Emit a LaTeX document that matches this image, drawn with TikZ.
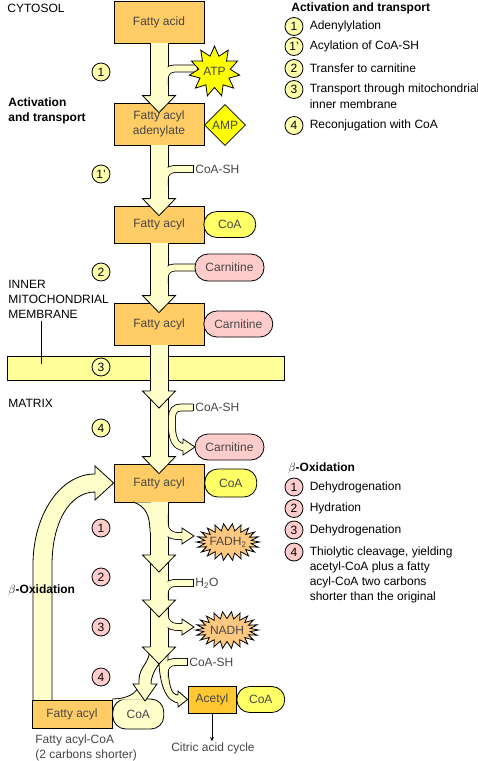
\documentclass[tikz,border=0pt]{standalone}
\usepackage{fontspec}
\setmainfont{Liberation Sans}
\usetikzlibrary{shapes.geometric, arrows, positioning, calc}
\definecolor{boxorange}{RGB}{255,204,102}
\definecolor{acetylorange}{RGB}{255,200,51}
\definecolor{paleyellow}{RGB}{255,255,204}
\definecolor{coayellow}{RGB}{255,255,102}
\definecolor{carnpink}{RGB}{255,204,204}
\definecolor{membyellow}{RGB}{255,255,153}
\definecolor{stepyellow}{RGB}{255,255,170}
\definecolor{burstorange}{RGB}{255,200,128}
\definecolor{atpyellow}{RGB}{255,255,0}
\definecolor{labelgray}{RGB}{70,70,70}

% wide flow arrow pieces
\newcommand{\fatshaft}[2]{%
  \filldraw[band] ($(#1)+(-9,0)$) -- ($(#2)+(-9,-3)$) -- ($(#2)+(9,-3)$) -- ($(#1)+(9,0)$);}
\newcommand{\fathead}[1]{%
  \filldraw[band] ($(#1)+(-9,-7)$) -- ($(#1)+(-16.5,-7)$) -- ($(#1)+(0,10)$)
    -- ($(#1)+(16.5,-7)$) -- ($(#1)+(9,-7)$);}
% side stream joining the shaft
\newcommand{\feedin}[1]{%
  \begin{scope}
    \clip ($(#1 -| axis)+(8.6,-15)$) rectangle ($(#1)+(2,30)$);
    \draw[line width=7.8pt] (#1) -- ($(#1 -| axis)+(15.5,0)$)
      .. controls ($(#1 -| axis)+(10,0)$) and ($(#1 -| axis)+(5.5,4.5)$)
      .. ($(#1 -| axis)+(5.5,10)$) -- ($(#1 -| axis)+(5.5,16)$);
  \end{scope}
  \draw[line width=6.2pt, paleyellow] (#1) -- ($(#1 -| axis)+(15.5,0)$)
      .. controls ($(#1 -| axis)+(10,0)$) and ($(#1 -| axis)+(5.5,4.5)$)
      .. ($(#1 -| axis)+(5.5,10)$) -- ($(#1 -| axis)+(5.5,16)$);
  \draw ($(#1)+(0,-3.9)$) -- ($(#1)+(0,3.9)$);}
% side stream leaving the shaft, tip at #1
\newcommand{\feedout}[1]{%
  \begin{scope}
    \clip ($(#1 -| axis)+(8.6,-30)$) rectangle ($(#1)+(0,12)$);
    \draw[line width=7.8pt] ($(#1 -| axis)+(5.5,-22)$) -- ($(#1 -| axis)+(5.5,-12)$)
      .. controls ($(#1 -| axis)+(5.5,-5.4)$) and ($(#1 -| axis)+(10.9,0)$)
      .. ($(#1 -| axis)+(17.5,0)$) -- ($(#1)+(-11,0)$);
  \end{scope}
  \draw[line width=6.2pt, paleyellow] ($(#1 -| axis)+(5.5,-22)$) -- ($(#1 -| axis)+(5.5,-12)$)
      .. controls ($(#1 -| axis)+(5.5,-5.4)$) and ($(#1 -| axis)+(10.9,0)$)
      .. ($(#1 -| axis)+(17.5,0)$) -- ($(#1)+(-11,0)$);
  \filldraw[band] ($(#1)+(-12,-3.5)$) -- ($(#1)+(-12,-8)$) -- (#1)
    -- ($(#1)+(-12,8)$) -- ($(#1)+(-12,3.5)$);}

\begin{document}
\begin{tikzpicture}[x=1pt, y=-1pt, line width=0.8pt,
    every node/.style={font=\fontsize{12}{15}\selectfont},
    band/.style={draw=black, fill=paleyellow, line width=0.8pt},
    box/.style={rectangle, draw=black, fill=boxorange, minimum width=90pt,
                text=labelgray, align=center, inner sep=1pt},
    pill/.style={rectangle, rounded corners=13pt, draw=black, text=labelgray,
                 minimum height=26pt, inner sep=1pt},
    coapill/.style={pill, fill=coayellow, minimum width=52pt},
    carnpill/.style={pill, fill=carnpink, minimum width=69pt},
    stepnum/.style={circle, draw=black, fill=stepyellow, minimum size=18pt, inner sep=0pt},
    betanum/.style={stepnum, fill=carnpink},
    plain/.style={anchor=west, inner sep=2pt, text=labelgray},
    sidelabel/.style={anchor=west, inner sep=2pt, align=left},
    legend/.style={anchor=west, inner sep=0pt},
    heading/.style={anchor=west, inner sep=0pt, align=left,
                    font=\fontsize{12}{15}\selectfont\bfseries}
]
\useasboundingbox (0,0) rectangle (478,761);
\coordinate (axis) at (159,0);

% membrane
\node (membrane) [draw=black, fill=membyellow, minimum width=277pt, minimum height=24pt,
                  inner sep=0pt] at (145.5,368) {};

% boxes
\node (acid) [box, minimum height=42pt] at (159,22) {Fatty acid};
\node (adenylate) [box, minimum height=42pt] at (159,124) {Fatty acyl\\adenylate};
\node (acylcoa) [box, minimum height=37pt] at (159,224.5) {Fatty acyl};
\node (coaA) [coapill, right=-1pt of acylcoa] {CoA};
\node (acylcarn) [box, minimum height=42pt] at (159,324) {Fatty acyl};
\node (carnA) [carnpill, right=-1pt of acylcarn] {Carnitine};
\node (acylbeta) [box, minimum height=38pt] at (159,483) {Fatty acyl};
\node (coaB) [coapill, minimum height=28pt, right=0pt of acylbeta] {CoA};
\node (acetyl) [box, fill=acetylorange, minimum width=48pt, minimum height=27pt] at (212,699.5) {Acetyl};
\node (coaC) [coapill, minimum width=48pt, right=0pt of acetyl] {CoA};

% recycling loop
\filldraw[band] (33,700) -- (33,565) .. controls (33,515) and (60,474) .. (95,474)
  -- (95,466) -- (acylbeta.west) -- (95,500) -- (95,492)
  .. controls (70,492) and (52,522) .. (52,565) -- (52,700);
\node (acylshort) [box, minimum width=80pt, minimum height=28pt] at (72,714) {Fatty acyl};
\node (coashort) [pill, fill=paleyellow, minimum width=51pt, minimum height=30pt,
                  right=0pt of acylshort] {CoA};

% main flow
\coordinate (memhead) at (159,398);
\coordinate (oxA) at (159,562);
\coordinate (oxB) at (159,607);
\coordinate (oxC) at (159,654);
\fatshaft{acid.south}{adenylate.north}
\fatshaft{adenylate.south}{acylcoa.north}
\fatshaft{acylcoa.south}{acylcarn.north}
\fatshaft{acylcarn.south}{memhead}
\fatshaft{memhead}{acylbeta.north}
\fatshaft{acylbeta.south}{oxA}
\fill[paleyellow] (133,502.4) .. controls (146,506) and (150,516) .. (150,532) -- (155,532) -- (155,502.4) -- cycle;
\draw (133,502) .. controls (146,506) and (150,516) .. (150,532);
\fatshaft{oxA}{oxB}
\fatshaft{oxB}{oxC}
% split into acyl-CoA and acetyl-CoA
\filldraw[band] (150,648) .. controls (150,663) and (139,667) .. (139,680) -- (139,686)
  -- (151,686) -- (151,684) .. controls (151,676) and (156,668) .. (159,664)
  .. controls (160,682) and (165,703) .. (180,703) -- (180,695) -- (178,695)
  .. controls (171,695) and (168,684) .. (168,660) -- (168,648) -- cycle;
\fill[paleyellow] (139.4,684) .. controls (137.5,694) and (126,698.6) .. (112,698.6)
  -- (112,699.5) -- (145,699.5) -- (145,684) -- cycle;
\draw (139,684) .. controls (137.5,694) and (126,699) .. (112,699);

% side streams
\coordinate (atpin) at (197,68.5);
\coordinate (carnin) at (196,267.5);
\coordinate (carnout) at (195,447);
\coordinate (fadhtip) at (194,536);
\coordinate (nadhtip) at (194,627);
\node (coashA) [plain] at (193,169) {CoA-SH};
\node (coashB) [plain] at (193,407.5) {CoA-SH};
\node (water) [plain] at (193,583) {H\textsubscript{2}O};
\node (coashC) [plain] at (187,662) {CoA-SH};
\feedin{atpin}
\feedin{coashA.west}
\feedin{carnin}
\draw[line width=7.8pt] (coashB.west) -- (181,407.5) .. controls (175,407.5) and (172,411) .. (172,417)
  -- (172,427) .. controls (172,437) and (175,447) .. (184,447);
\draw[line width=6.2pt, paleyellow] (coashB.west) -- (181,407.5) .. controls (175,407.5) and (172,411) .. (172,417)
  -- (172,427) .. controls (172,437) and (175,447) .. (184,447);
\draw ($(coashB.west)+(0,-3.9)$) -- ($(coashB.west)+(0,3.9)$);
\filldraw[band] (183,443.5) -- (183,439) -- (carnout) -- (183,455) -- (183,450.5);
\feedout{fadhtip}
\feedin{water.west}
\feedout{nadhtip}
\feedin{coashC.west}

% arrow heads
\fathead{adenylate.north}
\fathead{acylcoa.north}
\fathead{acylcarn.north}
\fathead{memhead}
\fathead{acylbeta.north}
\fathead{oxA}
\fathead{oxB}
\fathead{oxC}
\filldraw[band] (139,684) -- (133,684) -- (145,701) -- (157,684) -- (151,684);
\filldraw[band] (178,695) -- (178,691) -- (acetyl.west) -- (178,707) -- (178,703);

% cofactors
\node (atp) [star, star points=11, star point ratio=1.6, draw=black, fill=atpyellow,
             minimum size=46pt, inner sep=0pt, text=labelgray] at (214.5,71.5) {ATP};
\node (amp) [diamond, draw=black, fill=atpyellow, minimum size=41pt, inner sep=0pt,
             text=labelgray] at (225,125) {AMP};
\node (carnB) [carnpill, minimum height=27pt] at (229.5,267.5) {Carnitine};
\node (carnC) [carnpill] at (229.5,447) {Carnitine};
\filldraw[fill=burstorange] plot[domain=0:43, samples=44, variable=\k]
  ({228+(27.5+4*cos(180*\k))*cos(360/44*\k)}, {542+(15+3.5*cos(180*\k))*sin(360/44*\k)}) -- cycle;
\node (fadh) [text=labelgray] at (228,542) {FADH\textsubscript{2}};
\filldraw[fill=burstorange] plot[domain=0:43, samples=44, variable=\k]
  ({227+(27.5+4*cos(180*\k))*cos(360/44*\k)}, {630+(15+3.5*cos(180*\k))*sin(360/44*\k)}) -- cycle;
\node (nadh) [text=labelgray] at (227,630) {NADH};

\node (citric) [text=labelgray, inner sep=1pt] at (213,748) {Citric acid cycle};
\draw[->, >=stealth] (acetyl.south) -- (acetyl.south |- citric.north);
\node (shortlbl) [plain] at (33,747.5) [align=left] {Fatty acyl-CoA\\(2 carbons shorter)};

% step numbers
\node (s1) [stepnum] at (101,72) {1};
\node (s1p) [stepnum] at (101,174) {1’};
\node (s2) [stepnum] at (101,272) {2};
\node (s3) [stepnum] at (101,367) {3};
\node (s4) [stepnum] at (101,428) {4};
\node (b1) [betanum] at (101,528) {1};
\node (b2) [betanum] at (101,577) {2};
\node (b3) [betanum] at (101,627) {3};
\node (b4) [betanum] at (101,677) {4};

% side labels
\node (cytosol) [sidelabel] at (5,8) {CYTOSOL};
\node (actlbl) [heading] at (8,110.5) {Activation\\and transport};
\node (memlbl) [sidelabel] at (6,299) {INNER\\MITOCHONDRIAL\\MEMBRANE};
\coordinate (memtick) at (41,364);
\draw (memlbl.south -| memtick) -- (memtick);
\node (matrix) [sidelabel] at (6,403) {MATRIX};
\node (betalbl) [heading] at (8,590) {$\beta$-Oxidation};

% legend: activation
\node (acthead) [heading] at (291,8) {Activation and transport};
\node (la) [stepnum] at (294,26.5) {1};
\node [legend, right=6pt of la] {Adenylylation};
\node (lb) [stepnum] at (294,46.5) {1’};
\node [legend, right=6pt of lb] {Acylation of CoA-SH};
\node (lc) [stepnum] at (294,68.5) {2};
\node [legend, right=6pt of lc] {Transfer to carnitine};
\node (ld) [stepnum] at (294,89.5) {3};
\node (ldt) [legend, right=6pt of ld] {Transport through mitochondrial};
\node [legend, below=15pt of ldt.west, anchor=west] {inner membrane};
\node (le) [stepnum] at (294,125.5) {4};
\node [legend, right=6pt of le] {Reconjugation with CoA};

% legend: beta oxidation
\node (betahead) [heading] at (288,468) {$\beta$-Oxidation};
\node (lf) [betanum] at (294,487) {1};
\node [legend, right=6pt of lf] {Dehydrogenation};
\node (lg) [betanum] at (294,508.5) {2};
\node [legend, right=6pt of lg] {Hydration};
\node (lh) [betanum] at (294,530) {3};
\node [legend, right=6pt of lh] {Dehydrogenation};
\node (li) [betanum] at (294,552) {4};
\node (lit) [legend, right=6pt of li] {Thiolytic cleavage, yielding};
\node (lit2) [legend, below=15pt of lit.west, anchor=west] {acetyl-CoA plus a fatty};
\node (lit3) [legend, below=15pt of lit2.west, anchor=west] {acyl-CoA two carbons};
\node [legend, below=15pt of lit3.west, anchor=west] {shorter than the original};
\end{tikzpicture}
\end{document}
